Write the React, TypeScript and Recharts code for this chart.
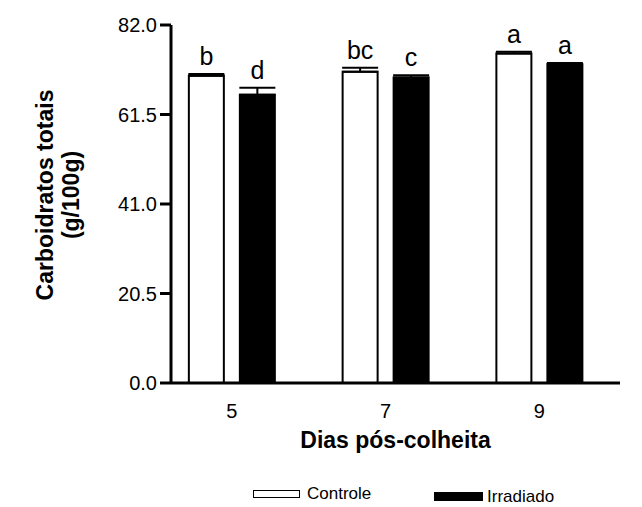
import React from "react";
import {
  BarChart,
  Bar,
  XAxis,
  YAxis,
  ErrorBar,
  LabelList,
  Legend,
} from "recharts";

const days = [5, 7, 9];
const controle = [70.4, 71.3, 75.5];
const controleErr = [0.4, 0.9, 0.4];
const controleLetters = ["b", "bc", "a"];
const irradiado = [66.0, 70.0, 73.0];
const irradiadoErr = [1.6, 0.5, 0.3];
const irradiadoLetters = ["d", "c", "a"];
const yTicks = [0, 20.5, 41, 61.5, 82];

const data = days.map((d, i) => ({
  day: d,
  controle: controle[i],
  controleErr: [0, controleErr[i]],
  controleLetter: controleLetters[i],
  irradiado: irradiado[i],
  irradiadoErr: [0, irradiadoErr[i]],
  irradiadoLetter: irradiadoLetters[i],
}));

const FONT = "'Liberation Sans', Arial, sans-serif";

const makeLetterLabel = (valKey: string, errKey: string) => (props: any) => {
  const { x, y, width, height, value, index } = props;
  const row: any = data[index];
  const pxPerUnit = height / row[valKey];
  const errTop = y - row[errKey][1] * pxPerUnit;
  return (
    <text
      x={x + width / 2}
      y={errTop - 9}
      textAnchor="middle"
      fontFamily={FONT}
      fontSize={25}
      fill="#000"
    >
      {value}
    </text>
  );
};

const YLabel = () => (
  <text
    transform="translate(53, 195) rotate(-90)"
    textAnchor="middle"
    fontFamily={FONT}
    fontWeight="bold"
    fontSize={23}
    fill="#000"
  >
    <tspan x={0} dy={0}>Carboidratos totais</tspan>
    <tspan x={0} dy={26}>(g/100g)</tspan>
  </text>
);

const XLabel = (props: any) => {
  const { viewBox } = props;
  return (
    <text
      x={viewBox.x + viewBox.width / 2}
      y={viewBox.y + 65}
      textAnchor="middle"
      fontFamily={FONT}
      fontWeight="bold"
      fontSize={23}
      fill="#000"
    >
      Dias pós-colheita
    </text>
  );
};

const legendItems = [
  { name: "Controle", fill: "#fff" },
  { name: "Irradiado", fill: "#000" },
];

const LegendContent = () => (
  <div style={{ position: "relative", height: 26, fontFamily: FONT, fontSize: 17, lineHeight: "17px" }}>
    <div style={{ position: "absolute", left: 253, top: 9, width: 45, height: 6, border: "1px solid #000", background: legendItems[0].fill }} />
    <span style={{ position: "absolute", left: 307, top: 4 }}>{legendItems[0].name}</span>
    <div style={{ position: "absolute", left: 434, top: 11, width: 49, height: 9, background: legendItems[1].fill }} />
    <span style={{ position: "absolute", left: 487, top: 7 }}>{legendItems[1].name}</span>
  </div>
);

const XTick = (props: any) => {
  const { x, y, payload } = props;
  return (
    <text x={x} y={y + 13} textAnchor="middle" fontFamily={FONT} fontSize={20} fill="#000" dominantBaseline="hanging">
      {payload.value}
    </text>
  );
};

export default function App() {
  return (
    <div style={{ position: "absolute", left: 0, top: 0 }}>
      <BarChart
        width={642}
        height={507}
        data={data}
        margin={{ top: 25, right: 22, bottom: 0, left: 0 }}
        barGap={16}
        barSize={35}
      >
        <XAxis
          dataKey="day"
          type="number"
          domain={[4.21, 10.05]}
          ticks={days}
          tickLine={false}
          axisLine={{ stroke: "#000", strokeWidth: 3 }}
          tick={<XTick />}
          height={98}
          allowDataOverflow
          label={<XLabel />}
        />
        <YAxis
          domain={[0, 82]}
          ticks={yTicks}
          tickFormatter={(v: number) => v.toFixed(1)}
          width={171}
          tickSize={11}
          tickMargin={3}
          tickLine={{ stroke: "#000", strokeWidth: 3 }}
          axisLine={{ stroke: "#000", strokeWidth: 3 }}
          tick={{ fill: "#000", fontFamily: FONT, fontSize: 20 }}
          label={<YLabel />}
        />
        <Legend verticalAlign="bottom" height={26} content={<LegendContent />} />
        <Bar dataKey="controle" name="Controle" fill="#fff" stroke="#000" strokeWidth={2} isAnimationActive={false}>
          <ErrorBar dataKey="controleErr" width={18} stroke="#000" strokeWidth={2} direction="y" />
          <LabelList dataKey="controleLetter" content={makeLetterLabel("controle", "controleErr")} />
        </Bar>
        <Bar dataKey="irradiado" name="Irradiado" fill="#000" stroke="#000" strokeWidth={2} isAnimationActive={false}>
          <ErrorBar dataKey="irradiadoErr" width={18} stroke="#000" strokeWidth={2} direction="y" />
          <LabelList dataKey="irradiadoLetter" content={makeLetterLabel("irradiado", "irradiadoErr")} />
        </Bar>
      </BarChart>
    </div>
  );
}
